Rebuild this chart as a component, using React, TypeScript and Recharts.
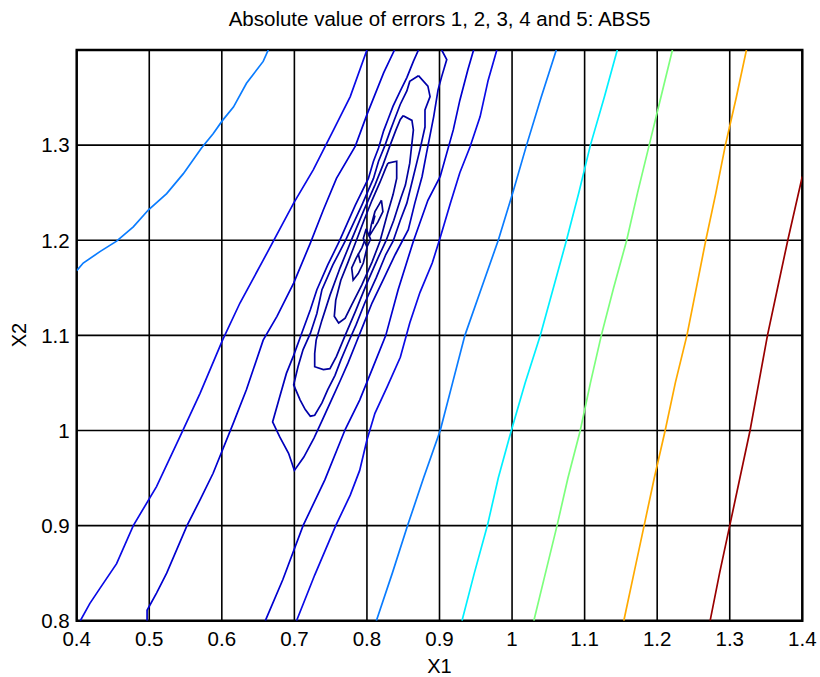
import React from 'react';
import { LineChart, Line, XAxis, YAxis, CartesianGrid, ReferenceArea, Label } from 'recharts';

type P = [number, number];

const xTicks = [0.4, 0.5, 0.6, 0.7, 0.8, 0.9, 1, 1.1, 1.2, 1.3, 1.4];
const yTicks = [0.8, 0.9, 1, 1.1, 1.2, 1.3];

const title = 'Absolute value of errors 1, 2, 3, 4 and 5: ABS5';
const xLabel = 'X1';
const yLabel = 'X2';

// dark blue open level (outer)
const lineA: P[] = [[0.405,0.8],[0.418,0.818],[0.432,0.834],[0.455,0.860],[0.478,0.900],[0.510,0.941],[0.542,0.993],[0.570,1.039],[0.601,1.095],[0.625,1.134],[0.657,1.179],[0.699,1.239],[0.726,1.274],[0.754,1.316],[0.777,1.351],[0.800,1.4]];
const lineD: P[] = [[0.703,0.8],[0.728,0.848],[0.757,0.900],[0.777,0.932],[0.790,0.958],[0.800,0.990],[0.811,1.018],[0.828,1.046],[0.846,1.077],[0.859,1.113],[0.873,1.145],[0.890,1.176],[0.901,1.203],[0.915,1.239],[0.928,1.271],[0.942,1.298],[0.956,1.330],[0.967,1.368],[0.979,1.4]];
// next level
const lineB: P[] = [[0.497,0.8],[0.497,0.811],[0.510,0.829],[0.524,0.850],[0.552,0.900],[0.570,0.927],[0.588,0.955],[0.616,1.008],[0.634,1.043],[0.657,1.095],[0.676,1.120],[0.699,1.155],[0.722,1.197],[0.740,1.232],[0.758,1.265],[0.784,1.299],[0.800,1.332],[0.823,1.376],[0.838,1.4]];
const lineC: P[] = [[0.660,0.8],[0.684,0.843],[0.712,0.900],[0.742,0.948],[0.770,1.001],[0.790,1.032],[0.807,1.064],[0.826,1.100],[0.843,1.148],[0.864,1.199],[0.884,1.242],[0.901,1.267],[0.919,1.316],[0.928,1.347],[0.939,1.379],[0.947,1.4]];
// U-shaped level open at the top
const contourE: P[] = [[0.871,1.4],[0.864,1.388],[0.855,1.371],[0.846,1.357],[0.836,1.341],[0.829,1.327],[0.823,1.315],[0.816,1.297],[0.809,1.283],[0.802,1.265],[0.784,1.237],[0.762,1.199],[0.746,1.174],[0.731,1.148],[0.722,1.127],[0.710,1.102],[0.699,1.079],[0.689,1.060],[0.680,1.036],[0.670,1.009],[0.680,0.993],[0.692,0.976],[0.700,0.958],[0.713,0.972],[0.727,0.992],[0.738,1.010],[0.751,1.032],[0.763,1.052],[0.774,1.071],[0.785,1.092],[0.795,1.111],[0.807,1.134],[0.824,1.161],[0.839,1.185],[0.857,1.211],[0.866,1.239],[0.876,1.267],[0.882,1.291],[0.892,1.330],[0.898,1.358],[0.903,1.372],[0.910,1.390],[0.903,1.4]];
// closed loops around the minimum
const contourF: P[] = [[0.871,1.373],[0.859,1.367],[0.855,1.357],[0.846,1.343],[0.839,1.329],[0.832,1.315],[0.825,1.300],[0.816,1.283],[0.809,1.265],[0.793,1.237],[0.770,1.199],[0.753,1.174],[0.738,1.148],[0.731,1.123],[0.722,1.102],[0.712,1.085],[0.705,1.067],[0.699,1.048],[0.708,1.032],[0.715,1.022],[0.722,1.015],[0.728,1.016],[0.738,1.029],[0.746,1.043],[0.756,1.058],[0.764,1.074],[0.774,1.092],[0.785,1.111],[0.797,1.134],[0.813,1.161],[0.826,1.185],[0.836,1.199],[0.846,1.221],[0.855,1.239],[0.864,1.267],[0.873,1.295],[0.880,1.319],[0.880,1.337],[0.887,1.351],[0.884,1.362],[0.871,1.373]];
const contourG: P[] = [[0.850,1.331],[0.846,1.327],[0.840,1.316],[0.832,1.300],[0.822,1.279],[0.811,1.258],[0.796,1.232],[0.778,1.199],[0.763,1.171],[0.749,1.142],[0.738,1.116],[0.730,1.095],[0.728,1.081],[0.728,1.067],[0.740,1.064],[0.749,1.065],[0.758,1.078],[0.770,1.100],[0.784,1.125],[0.799,1.153],[0.815,1.181],[0.826,1.199],[0.837,1.221],[0.847,1.245],[0.853,1.258],[0.859,1.281],[0.864,1.316],[0.862,1.326],[0.850,1.331]];
const contourH: P[] = [[0.829,1.281],[0.841,1.283],[0.841,1.265],[0.836,1.248],[0.828,1.227],[0.818,1.199],[0.807,1.177],[0.793,1.153],[0.779,1.132],[0.770,1.118],[0.761,1.113],[0.755,1.120],[0.757,1.137],[0.764,1.158],[0.774,1.177],[0.785,1.199],[0.796,1.221],[0.807,1.242],[0.818,1.261],[0.826,1.276],[0.829,1.281]];
const contourI: P[] = [[0.820,1.242],[0.822,1.230],[0.815,1.219],[0.807,1.209],[0.803,1.204],[0.806,1.216],[0.811,1.230],[0.817,1.238],[0.820,1.242]];
const contourI2: P[] = [[0.800,1.192],[0.795,1.176],[0.788,1.165],[0.781,1.158],[0.779,1.171],[0.785,1.181],[0.793,1.192],[0.797,1.200]];
const diamond: P[] = [[0.799,1.212],[0.805,1.201],[0.800,1.193],[0.795,1.202],[0.799,1.212]];
const tickJ: P[] = [[0.811,1.226],[0.808,1.217]];
const tickK: P[] = [[0.788,1.186],[0.791,1.176]];

// light blue level
const lightBlueRight: P[] = [[0.813,0.8],[0.835,0.85],[0.856,0.9],[0.878,0.95],[0.901,1.0],[0.918,1.05],[0.935,1.1],[0.958,1.15],[0.981,1.2],[1.001,1.25],[1.020,1.3],[1.040,1.35],[1.061,1.4]];
const lightBlueLeft: P[] = [[0.4,1.168],[0.409,1.176],[0.432,1.188],[0.455,1.199],[0.478,1.214],[0.499,1.232],[0.524,1.249],[0.547,1.270],[0.572,1.297],[0.588,1.312],[0.601,1.326],[0.616,1.340],[0.634,1.365],[0.657,1.388],[0.664,1.4]];
const cyanLine: P[] = [[0.931,0.8],[0.948,0.85],[0.966,0.9],[0.981,0.95],[0.999,1.0],[1.018,1.05],[1.039,1.1],[1.057,1.15],[1.075,1.2],[1.092,1.25],[1.108,1.3],[1.127,1.35],[1.145,1.4]];
const greenLine: P[] = [[1.030,0.8],[1.046,0.85],[1.062,0.9],[1.077,0.95],[1.094,1.0],[1.108,1.05],[1.123,1.1],[1.140,1.15],[1.158,1.2],[1.173,1.25],[1.189,1.3],[1.205,1.35],[1.221,1.4]];
const orangeLine: P[] = [[1.154,0.8],[1.168,0.85],[1.182,0.9],[1.196,0.95],[1.211,1.0],[1.225,1.05],[1.241,1.1],[1.254,1.15],[1.267,1.2],[1.281,1.25],[1.294,1.3],[1.309,1.35],[1.323,1.4]];
const darkRedLine: P[] = [[1.273,0.8],[1.286,0.85],[1.300,0.9],[1.314,0.95],[1.328,1.0],[1.340,1.05],[1.352,1.1],[1.366,1.15],[1.380,1.2],[1.4,1.267]];

const contours: { id: string; pts: P[]; color: string }[] = [
  { id: 'lbL', pts: lightBlueLeft, color: '#0a7cff' },
  { id: 'lbR', pts: lightBlueRight, color: '#0a7cff' },
  { id: 'cyan', pts: cyanLine, color: '#00f0ff' },
  { id: 'green', pts: greenLine, color: '#7dff7d' },
  { id: 'orange', pts: orangeLine, color: '#ffaa00' },
  { id: 'red', pts: darkRedLine, color: '#990000' },
  { id: 'A', pts: lineA, color: '#0a0ae6' },
  { id: 'D', pts: lineD, color: '#0a0ae6' },
  { id: 'B', pts: lineB, color: '#0000d0' },
  { id: 'C', pts: lineC, color: '#0000d0' },
  { id: 'E', pts: contourE, color: '#0000bb' },
  { id: 'F', pts: contourF, color: '#0000aa' },
  { id: 'G', pts: contourG, color: '#00009e' },
  { id: 'H', pts: contourH, color: '#000094' },
  { id: 'I', pts: contourI, color: '#00008c' },
  { id: 'I2', pts: contourI2, color: '#00008c' },
  { id: 'dia', pts: diamond, color: '#000088' },
  { id: 'tJ', pts: tickJ, color: '#000088' },
  { id: 'tK', pts: tickK, color: '#000088' },
];

const fmt = (v: number) => String(Math.round(v * 10) / 10);
const FONT = '"Liberation Sans", Arial, Helvetica, sans-serif';

export default function App() {
  return (
    <div style={{ position: 'absolute', left: 0, top: 0, width: 820, height: 677, background: '#fff', fontFamily: FONT, color: '#000' }}>
      <div style={{ position: 'absolute', left: 0, top: 8, width: 879, textAlign: 'center', fontSize: 20.5, lineHeight: '22px', whiteSpace: 'nowrap' }}>{title}</div>
      <div style={{ position: 'absolute', left: 19, top: 335, fontSize: 20, lineHeight: '22px', transform: 'translate(-50%, -50%) rotate(-90deg)', whiteSpace: 'nowrap' }}>{yLabel}</div>
      <LineChart width={820} height={677} margin={{ top: 50, right: 17.7, bottom: 0, left: 6.7 }}>
        <CartesianGrid stroke="#000" strokeWidth={1.6} />
        <XAxis type="number" dataKey="x" domain={[0.4, 1.4]} ticks={xTicks} allowDataOverflow height={56.3}
          tickLine={false} axisLine={false} tickSize={0} tickMargin={11} tickFormatter={fmt}
          tick={{ fill: '#000', fontSize: 20.5 }} interval={0}>
          <Label value={xLabel} position="insideBottom" offset={4} style={{ fontSize: 20, fill: '#000' }} />
        </XAxis>
        <YAxis type="number" dataKey="y" domain={[0.8, 1.4]} ticks={yTicks} allowDataOverflow width={70}
          tickLine={false} axisLine={false} tickSize={0} tickMargin={7} tickFormatter={fmt}
          tick={{ fill: '#000', fontSize: 20.5 }} interval={0} />
        {contours.map((c) => (
          <Line key={c.id} data={c.pts.map(([x, y]) => ({ x, y }))} dataKey="y" type="linear"
            stroke={c.color} strokeWidth={1.7} dot={false} activeDot={false} isAnimationActive={false} />
        ))}
        <ReferenceArea x1={0.4} x2={1.4} y1={0.8} y2={1.4} fill="none" stroke="#000" strokeWidth={2.4} ifOverflow="visible" />
      </LineChart>
    </div>
  );
}
